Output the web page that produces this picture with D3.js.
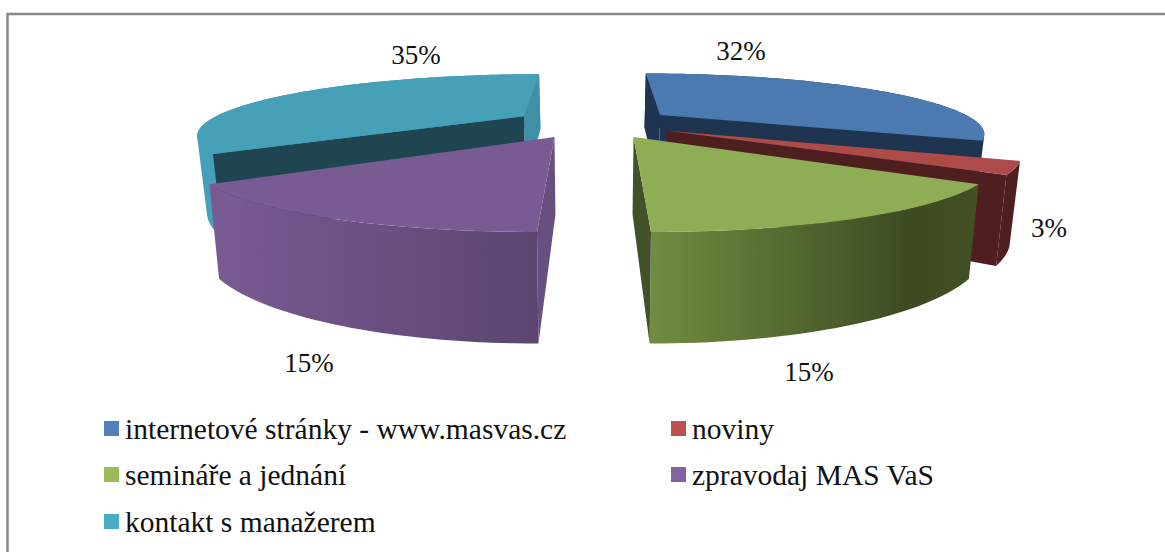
<!DOCTYPE html>
<html><head><meta charset="utf-8">
<script src="https://cdn.jsdelivr.net/npm/d3@7/dist/d3.min.js"></script>
<style>html,body{margin:0;padding:0;background:#fff;overflow:hidden}svg{display:block}text{font-family:"Liberation Serif",serif;fill:#111}</style>
</head><body><svg id="c" width="1165" height="552"></svg>
<script>
const categories=["internetové stránky - www.masvas.cz","noviny","semináře a jednání","zpravodaj MAS VaS","kontakt s manažerem"];
const values=[32,3,15,15,35];
const labels=["32%","3%","15%","15%","35%"];
const topColors=["#4a7aaf","#ae4b49","#8fad55","#785b93","#45a0b8"];
const legendColors=["#4f81bd","#c0504d","#9bbb59","#8064a2","#4bacc6"];
const startCutColors=["#1f344f",null,null,"#67507f","#1f4550"];
const endCutColors=["#1f344f","#4f1f20","#43502a",null,"#3f90a5"];
const wallStops=[
 [["#1f344f",0],["#1f344f",1]],
 [["#4f1f20",0],["#4f1f20",1]],
 [["#708d41",0],["#3d4a22",.8],["#435026",1]],
 [["#785b93",0],["#5c4570",1]],
 [["#46a0b9",0],["#3f92a8",1]]
];
const labelPos=[[741,51],[1049,228],[809,372],[309,363],[416,55]];
const legendPos=[[104,421],[671,421],[104,467],[671,467],[104,514]];

const svg=d3.select("#c"),defs=svg.append("defs");
svg.append("path").attr("d","M7.5,1000V14H1200").attr("fill","none").attr("stroke","#868686").attr("stroke-width",2.4);

// perspective model
const cx=594,vy=-78,expl=.405,Ru=1.585,Rv=1.552,pa=.00498,pb=.000917,hRatio=1.36,xShrink=.975;
function project(t,mid,r=1){
  const u=expl*Math.sin(mid)+Ru*r*Math.sin(t), v=-expl*Math.cos(mid)-Rv*r*Math.cos(t);
  const w=1/(pa-pb*v);
  return [cx+u*w,vy+w];
}
const low=p=>[cx+(p[0]-cx)*xShrink,vy+(p[1]-vy)*hRatio];
const line=d3.line();
const pie=d3.pie().sort(null).value(d=>d)(values);
const arcs=pie.map((d,i)=>{
  const mid=(d.startAngle+d.endAngle)/2,n=Math.ceil((d.endAngle-d.startAngle)*40);
  const pts=d3.range(n+1).map(k=>project(d.startAngle+(d.endAngle-d.startAngle)*k/n,mid));
  return {i,mid,pts,apex:project(0,mid,0)};
});
const order=[4,0,1,3,2];
order.forEach(i=>{
  const s=arcs[i],g=svg.append("g");
  const lows=s.pts.map(low),xs=s.pts.concat(lows).map(p=>p[0]);
  const gid="w"+i;
  const grad=defs.append("linearGradient").attr("id",gid).attr("gradientUnits","userSpaceOnUse")
    .attr("x1",d3.min(xs)).attr("x2",d3.max(xs)).attr("y1",0).attr("y2",0);
  wallStops[i].forEach(c=>grad.append("stop").attr("offset",c[1]).attr("stop-color",c[0]));
  const a0=s.apex,a1=low(a0),f=s.pts[0],l=s.pts[s.pts.length-1];
  // wall = union of quads, all wound the same way so that one path fills without seams
  const wall=d3.range(s.pts.length-1).map(k=>{
    const q=[s.pts[k],s.pts[k+1],lows[k+1],lows[k]];
    return line(d3.polygonArea(q)<0?q.reverse():q)+"Z";
  }).join("");
  g.append("path").attr("d",wall).attr("fill",`url(#${gid})`);
  if(endCutColors[i]) g.append("path").attr("d",line([a0,l,low(l),a1])+"Z").attr("fill",endCutColors[i]);
  if(startCutColors[i]) g.append("path").attr("d",line([a0,f,low(f),a1])+"Z").attr("fill",startCutColors[i]);
  g.append("path").attr("d",line([a0].concat(s.pts))+"Z").attr("fill",topColors[i]);
});
svg.append("g").selectAll("text").data(labels).join("text")
  .attr("x",(d,i)=>labelPos[i][0]).attr("y",(d,i)=>labelPos[i][1]+9)
  .attr("text-anchor","middle").attr("font-size",27).text(d=>d);
const lgd=svg.append("g").selectAll("g").data(categories).join("g")
  .attr("transform",(d,i)=>`translate(${legendPos[i][0]},${legendPos[i][1]})`);
lgd.append("rect").attr("width",15).attr("height",15).attr("fill",(d,i)=>legendColors[i]);
lgd.append("text").attr("x",21).attr("y",18).attr("font-size",29.5).text(d=>d);
</script></body></html>
